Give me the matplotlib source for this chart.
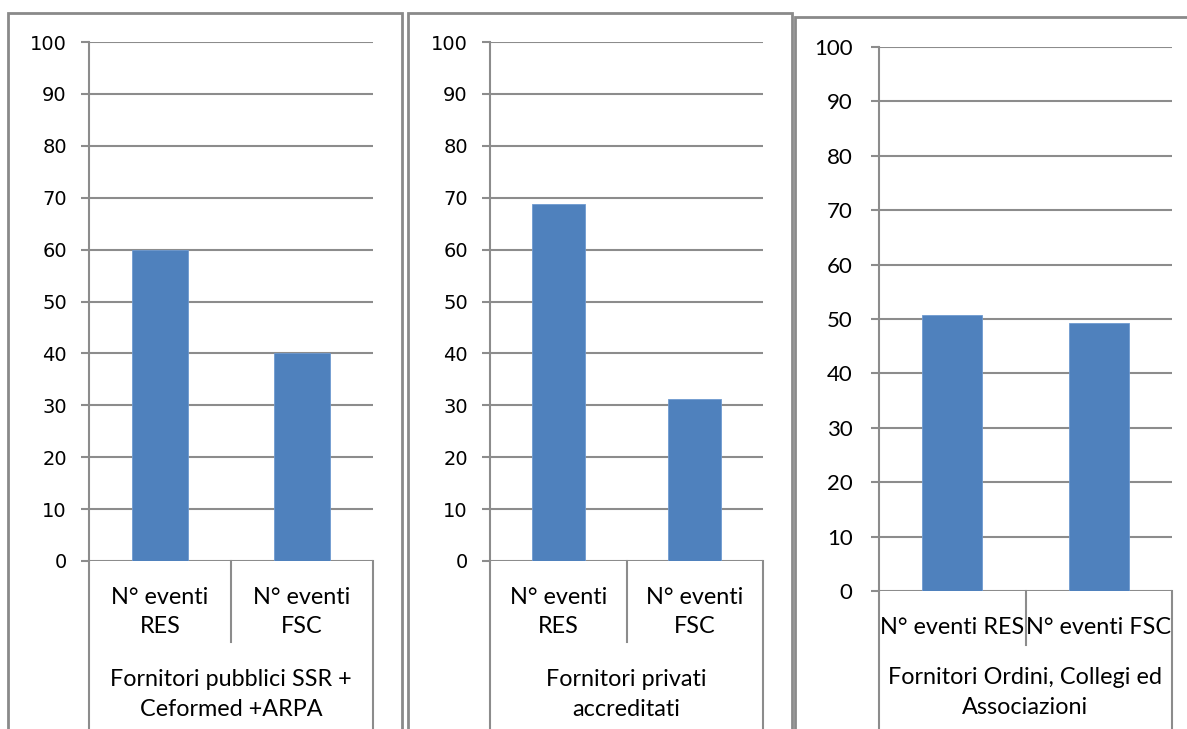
import matplotlib
matplotlib.use("Agg")
import matplotlib.pyplot as plt
from matplotlib.patches import Rectangle

# ── Data ─────────────────────────────────────────────────────────────────────
categories_2line = ["N° eventi\nRES", "N° eventi\nFSC"]
categories_1line = ["N° eventi RES", "N° eventi FSC"]
groups = [
    "Fornitori pubblici SSR +\nCeformed +ARPA",
    "Fornitori privati\naccreditati",
    "Fornitori Ordini, Collegi ed\nAssociazioni",
]
values_pubblici = [60.0, 40.0]
values_privati = [68.7, 31.3]
values_ordini = [50.8, 49.2]
yticks = list(range(0, 101, 10))

# ── Layout (pixels) ──────────────────────────────────────────────────────────
W, H = 1187, 729
BAR = "#4F81BD"
GRID = "#8C8C8C"
BORDER = "#8A8A8A"

fig = plt.figure(figsize=(W / 100, H / 100), dpi=100)


def rect(x0, y_top, x1, y_bot):
    return [x0 / W, 1 - y_bot / H, (x1 - x0) / W, (y_bot - y_top) / H]


# panel borders
for x0, y0, x1 in [(8, 13, 402), (408, 13, 792), (795, 17, 1192)]:
    fig.patches.append(Rectangle((x0 / W, -0.05), (x1 - x0) / W, 1 - y0 / H + 0.05,
                                 transform=fig.transFigure, fill=False,
                                 edgecolor=BORDER, linewidth=2))

# (axes rect, values, labels, group, tick font, tick size, tick pad,
#  divider bottom px, bar width, group text top px)
panels = [
    (rect(89, 42, 373, 561), values_pubblici, categories_2line, groups[0],
     "DejaVu Sans", 14, 10, 642, 0.39, 669),
    (rect(490, 42, 763, 561), values_privati, categories_2line, groups[1],
     "DejaVu Sans", 14, 10, 642, 0.39, 669),
    (rect(879, 47, 1172, 591), values_ordini, categories_1line, groups[2],
     "Lato", 16, 13, 645, 0.41, 667),
]

for pos, vals, cats, grp, tickfont, ticksize, tickpad, div_bottom, bw, grp_top in panels:
    ax = fig.add_axes(pos)
    x = list(range(len(vals)))
    ax.bar(x, vals, width=bw, color=BAR, edgecolor="#6F9AD0", linewidth=0.6, zorder=3)
    ax.set_xlim(-0.5, len(vals) - 0.5)
    ax.set_ylim(0, 100)
    ax.set_yticks(yticks)
    ax.set_yticklabels([str(t) for t in yticks], fontfamily=tickfont, fontsize=ticksize)
    ax.tick_params(axis="y", direction="out", length=6, width=1.5, color=GRID, pad=tickpad)
    ax.yaxis.grid(True, color=GRID, linewidth=1.5, zorder=0)
    ax.set_axisbelow(True)
    for s in ["top", "right", "bottom"]:
        ax.spines[s].set_visible(False)
    ax.spines["left"].set_color(GRID)
    ax.spines["left"].set_linewidth(1.5)

    ax.set_xticks(x)
    ax.set_xticklabels(cats, fontfamily="Lato", fontsize=16.8, linespacing=1.42)
    ax.tick_params(axis="x", length=0, pad=19)

    # category axis frame lines below the plot
    bot_px = pos[1] * H  # axes bottom in pixels from figure bottom
    ax_h_px = pos[3] * H
    axis_y = H - bot_px
    drop_div = (div_bottom - axis_y) / ax_h_px
    ax.plot([0.5, 0.5], [0, -drop_div], color=GRID, linewidth=1.5,
            transform=ax.get_xaxis_transform(), clip_on=False)
    drop_all = (bot_px + 20) / ax_h_px
    for xe in [-0.5, len(vals) - 0.5]:
        ax.plot([xe, xe], [0, -drop_all], color=GRID, linewidth=1.5,
                transform=ax.get_xaxis_transform(), clip_on=False)

    ax.annotate(grp, xy=(0.5, 0), xycoords="axes fraction",
                xytext=(0, -(grp_top - axis_y) * 0.72),
                textcoords="offset points", ha="center", va="top",
                fontfamily="Lato", fontsize=16.8, linespacing=1.55)

fig.savefig("out.png", dpi=100, facecolor="white")
